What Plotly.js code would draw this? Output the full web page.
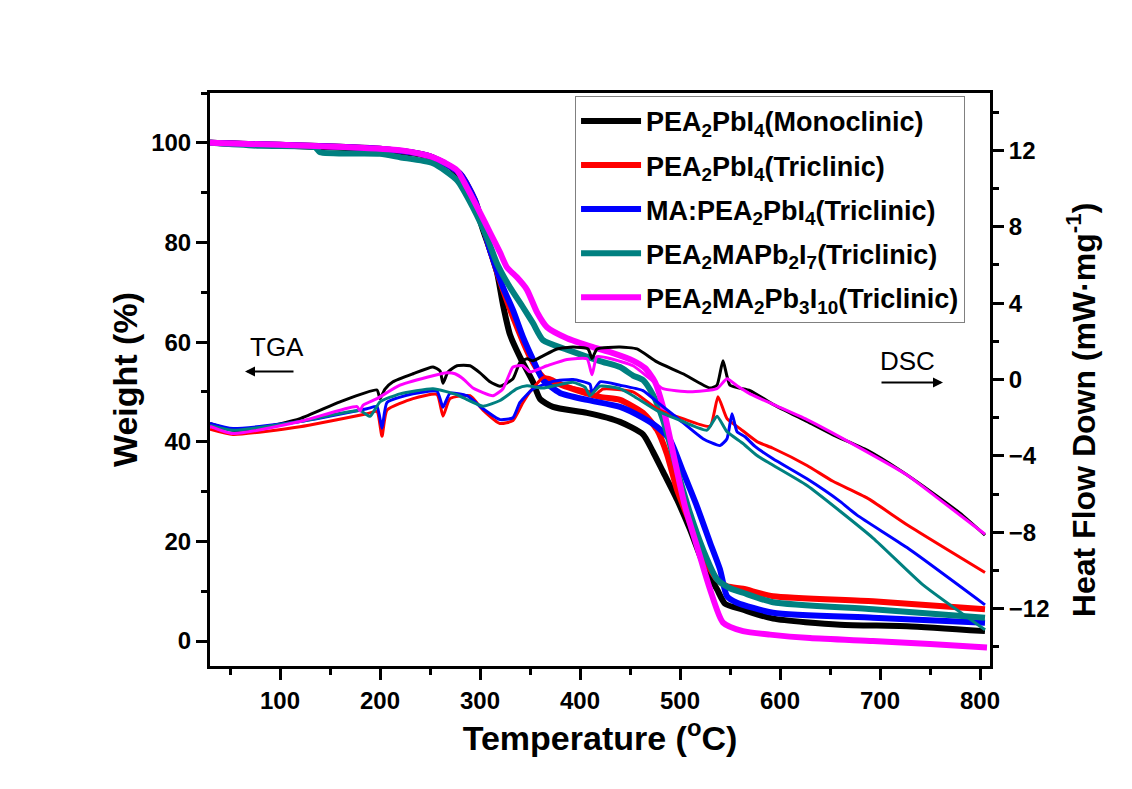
<!DOCTYPE html>
<html><head><meta charset="utf-8">
<script src="https://cdn.plot.ly/plotly-3.0.1.min.js"></script>
<style>body{margin:0;background:#fff}#chart{width:1132px;height:789px}</style>
</head><body><div id="chart"></div>
<script>
// ---- Series names ----
const seriesNames = [
  'PEA<sub>2</sub>PbI<sub>4</sub>(Monoclinic)',
  'PEA<sub>2</sub>PbI<sub>4</sub>(Triclinic)',
  'MA:PEA<sub>2</sub>PbI<sub>4</sub>(Triclinic)',
  'PEA<sub>2</sub>MAPb<sub>2</sub>I<sub>7</sub>(Triclinic)',
  'PEA<sub>2</sub>MA<sub>2</sub>Pb<sub>3</sub>I<sub>10</sub>(Triclinic)'
];
const seriesColors = ['#000000', '#ff0000', '#0000ff', '#008080', '#ff00ff'];

// ---- TGA (Weight %) ----
const tgaBlackT = [30,100,200,250,270,285,295,303,310,317,323,330,340,353,360,373,407,440,463,473,483,497,510,523,537,545,563,593,660,727,805];
const tgaBlackW = [100,99.5,98.6,97.2,95.2,91.5,87.5,82.5,78.5,74,67.5,61.5,57,52,48.6,47,45.8,44,41.5,38,34,28.4,22.4,15.7,10.4,7.5,6.3,4.5,3.3,3,2];

const tgaRedT = [30,100,200,250,280,295,310,323,335,350,363,387,420,440,463,477,487,497,510,523,537,547,563,593,693,805];
const tgaRedW = [100,99.6,98.8,97.3,93.8,88.5,78.5,70.5,64,57,53,51,49,48.4,45.8,42.4,37.5,30.4,23.7,17,12.4,11,10.5,9,8,6.4];

const tgaBlueT = [30,100,200,250,280,295,310,323,333,343,353,363,380,407,440,463,477,490,503,517,530,540,547,557,593,693,805];
const tgaBlueW = [100,99.6,98.8,97.3,93.8,88.5,78.5,71,66.4,61,56.5,52.4,49.8,48.4,47,44.8,43,40.4,34,27,19.8,14.4,9,7.7,5.7,4.7,3.7];

const tgaTealT = [30,80,135,140,200,220,253,277,293,307,317,330,343,353,363,387,420,440,453,463,473,483,497,510,523,537,550,563,593,693,805];
const tgaTealW = [100,99.4,99.1,98.1,97.8,97.1,95.9,92.5,87,81,75.8,71,67,63.8,60.4,58.5,56.2,55,53.3,52.4,49.4,44.4,34.4,25.7,18.4,12.4,10.6,9.7,7.8,6.4,4.7];

const tgaMagT = [30,100,170,220,240,253,265,277,287,300,310,320,327,337,347,357,367,387,413,433,453,465,475,483,495,505,517,530,543,563,590,630,693,750,807];
const tgaMagW = [100,99.6,99.1,98.5,97.8,97.1,96,94.5,91,86,82,78,75,73,70.5,66,63,60.8,59,57.8,56.3,54.8,52,47,36,27,19,10.4,3.7,2,1.3,0.6,0,-0.6,-1.3];

// ---- DSC (Heat flow, mW/mg) ----
const dscBlackT = [30,53,80,120,160,197,200,205,213,233,253,260,263,268,277,290,300,310,320,333,340,347,353,363,377,393,408,412,417,440,457,477,503,530,537,543,550,570,593,627,653,687,720,753,780,805];
const dscBlackH = [-2.3,-2.66,-2.55,-2.05,-1.17,-0.55,-1.0,-0.5,-0.12,0.3,0.66,0.45,-0.2,0.4,0.72,0.72,0.35,-0.12,-0.35,0.04,0.9,1.08,0.98,1.24,1.6,1.7,1.6,1.1,1.6,1.7,1.6,0.92,0.3,-0.45,-0.3,0.98,-0.3,-0.58,-1.3,-2.2,-2.9,-3.7,-4.75,-5.95,-7.0,-8.15];

const dscRedT = [30,53,120,187,197,202,207,233,257,263,270,290,303,320,333,343,350,363,370,387,410,413,423,453,477,503,530,538,547,560,577,593,627,653,687,727,805];
const dscRedH = [-2.6,-2.88,-2.47,-1.79,-1.68,-2.97,-1.6,-1.0,-0.78,-1.92,-1.0,-0.85,-1.6,-2.3,-2.15,-1.2,-0.64,0.1,0.1,-0.33,-0.64,-0.9,-0.5,-0.65,-1.53,-2.05,-2.45,-0.9,-2.05,-2.57,-3.25,-3.6,-4.5,-5.33,-6.2,-7.6,-10.1];

const dscBlueT = [30,53,120,187,197,202,207,233,257,263,270,287,303,320,333,340,353,373,393,410,412,420,440,463,477,497,523,540,547,552,557,565,575,593,627,660,677,727,805];
const dscBlueH = [-2.3,-2.57,-2.2,-1.53,-1.42,-2.55,-1.2,-0.75,-0.62,-1.45,-0.72,-0.85,-1.53,-2.1,-2.0,-1.2,-0.5,-0.1,0.0,-0.25,-0.7,-0.12,-0.3,-0.58,-1.17,-2.0,-3.1,-3.46,-3.1,-1.79,-2.73,-3.0,-3.5,-4.15,-5.2,-6.38,-7.1,-8.8,-11.8];

const dscTealT = [30,53,120,180,190,200,220,253,277,287,303,320,337,347,363,377,393,405,410,420,440,453,477,503,527,537,547,563,577,590,627,693,743,805];
const dscTealH = [-2.4,-2.66,-2.2,-1.63,-1.93,-1.17,-0.75,-0.48,-0.8,-1.05,-1.4,-1.1,-0.48,-0.33,-0.45,-0.3,-0.15,-0.4,-0.85,-0.35,-0.48,-0.85,-1.63,-2.2,-2.65,-1.92,-2.73,-3.35,-3.98,-4.4,-5.55,-8.3,-10.75,-13.1];

const dscMagT = [30,53,120,177,180,183,197,220,253,267,275,283,293,313,323,333,343,350,367,387,407,412,417,430,453,470,483,510,537,547,557,570,593,627,677,727,760,805];
const dscMagH = [-2.45,-2.83,-2.2,-1.42,-1.65,-1.35,-1.0,-0.3,0.2,0.35,0.3,0.04,-0.45,-0.85,-0.48,0.65,0.72,0.4,0.72,1.05,1.08,0.25,1.2,1.1,0.72,0.04,-0.48,-0.64,-0.48,0.04,-0.33,-0.75,-1.3,-2.1,-3.5,-5.0,-6.3,-8.1];

// ---- Axis ticks ----
const xTickVals = [100,200,300,400,500,600,700,800];
const yTickVals = [0,20,40,60,80,100];
const y2TickVals = [-12,-8,-4,0,4,8,12];

const tga = [[tgaBlackT,tgaBlackW],[tgaRedT,tgaRedW],[tgaBlueT,tgaBlueW],[tgaTealT,tgaTealW],[tgaMagT,tgaMagW]];
const dsc = [[dscBlackT,dscBlackH],[dscRedT,dscRedH],[dscBlueT,dscBlueH],[dscTealT,dscTealH],[dscMagT,dscMagH]];

const FONT = 'Liberation Sans, Arial, sans-serif';
const traces = [];
dsc.forEach((d,i)=>{
  traces.push({x:d[0], y:d[1], yaxis:'y2', mode:'lines', showlegend:false,
    line:{color:seriesColors[i], width:3, shape:'spline', smoothing:0.5}, hoverinfo:'skip'});
});
tga.forEach((d,i)=>{
  traces.push({x:d[0], y:d[1], name:seriesNames[i], mode:'lines', legendgroup:'g'+i,
    line:{color:seriesColors[i], width:6, shape:'spline', smoothing:0.6}});
});

const axisCommon = {
  showgrid:false, zeroline:false, showline:true, linecolor:'#000', linewidth:3,
  ticks:'outside', ticklen:11, tickwidth:3, tickcolor:'#000',
  tickfont:{family:FONT, size:24, color:'#000', weight:'bold'}
};
const titleFont = {family:FONT, size:34, weight:'bold', color:'#000'};

const layout = {
  width:1132, height:789,
  margin:{l:210, r:142, t:93, b:123},
  paper_bgcolor:'#fff', plot_bgcolor:'#fff',
  font:{family:FONT, color:'#000'},
  xaxis:Object.assign({}, axisCommon, {
    range:[30,810], tickvals:xTickVals, mirror:true,
    minor:{dtick:50, tick0:0, ticks:'outside', ticklen:6, tickwidth:3, tickcolor:'#000'},
    title:{text:'Temperature (<sup>o</sup>C)', font:titleFont, standoff:10}
  }),
  yaxis:Object.assign({}, axisCommon, {
    range:[-5,110], tickvals:yTickVals,
    minor:{dtick:10, tick0:0, ticks:'outside', ticklen:6, tickwidth:3, tickcolor:'#000'},
    title:{text:'Weight (%)', font:titleFont, standoff:4}
  }),
  yaxis2:Object.assign({}, axisCommon, {
    range:[-15,15], tickvals:y2TickVals, overlaying:'y', side:'right',
    minor:{dtick:2, tick0:0, ticks:'outside', ticklen:6, tickwidth:3, tickcolor:'#000'}
  }),
  legend:{x:0.468, y:0.995, xanchor:'left', yanchor:'top', bgcolor:'#fff',
    bordercolor:'#808080', borderwidth:1, tracegroupgap:6, itemwidth:60,
    font:{family:FONT, size:27, weight:'bold', color:'#000'}},
  annotations:[
    {x:1.117, y:0.447, xref:'paper', yref:'paper', xanchor:'center', yanchor:'middle', textangle:-90, showarrow:false,
     text:'Heat Flow Down (mW·mg<sup>-1</sup>)', font:{family:FONT, size:32, weight:'bold', color:'#000'}},
    {x:97, y:59, xref:'x', yref:'y', text:'TGA', showarrow:false, font:{family:FONT, size:26, color:'#000'}},
    {x:65, y:54.1, ax:115, ay:54.1, xref:'x', yref:'y', axref:'x', ayref:'y', text:'', showarrow:true, arrowhead:2, arrowsize:1, arrowwidth:2, arrowcolor:'#000'},
    {x:727, y:56.3, xref:'x', yref:'y', text:'DSC', showarrow:false, font:{family:FONT, size:26, color:'#000'}},
    {x:763, y:51.9, ax:700, ay:51.9, xref:'x', yref:'y', axref:'x', ayref:'y', text:'', showarrow:true, arrowhead:2, arrowsize:1, arrowwidth:2, arrowcolor:'#000'}
  ]
};

Plotly.newPlot('chart', traces, layout, {displayModeBar:false, staticPlot:true});
</script></body></html>
